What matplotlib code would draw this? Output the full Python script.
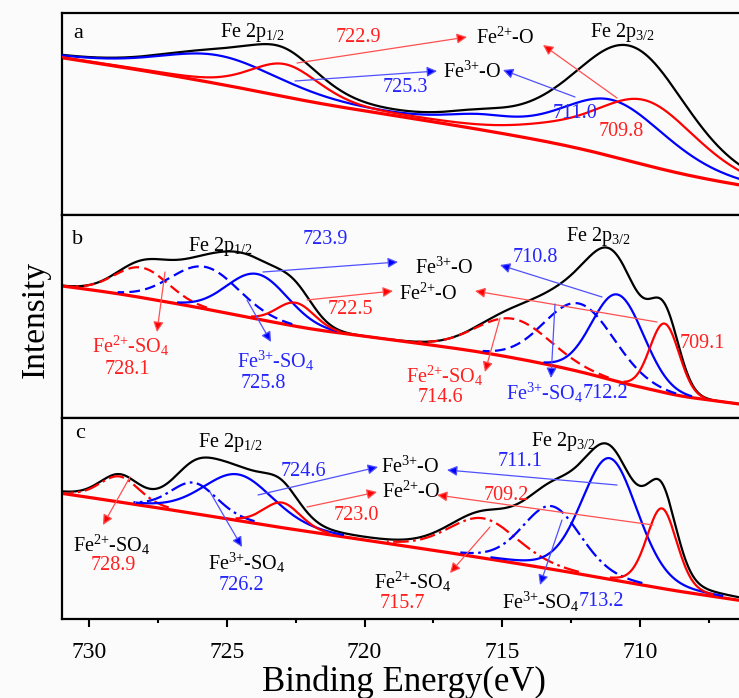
import numpy as np
import matplotlib.pyplot as plt

plt.rcParams['font.family'] = ['Liberation Serif', 'DejaVu Serif']
plt.rcParams['mathtext.fontset'] = 'custom'
plt.rcParams['mathtext.rm'] = 'Liberation Serif'
plt.rcParams['mathtext.default'] = 'regular'

# binding energy grid (eV), ascending
energy = np.linspace(706.0, 731.2, 1400)

# ---- panel a: Fe3+-O / Fe2+-O (2p1/2, shake-up, 2p3/2)
a_fe3o_pos = [725.3, 715.8, 711.0]
a_fe3o_amp = [28, 10, 56]
a_fe3o_fwhm = [5.2, 3.0, 4.6]
a_fe2o_pos = [722.9, 713.5, 709.8]
a_fe2o_amp = [32, 7, 64]
a_fe2o_fwhm = [3.0, 3.5, 4.4]
a_background = [28.3, 4.2, 24]   # level at 706 eV, slope per eV, Shirley step

# ---- panel b
b_fe3o_pos = [723.9, 710.8]
b_fe3o_amp = [45, 87]
b_fe3o_fwhm = [2.6, 2.2]
b_fe2o_pos = [722.5, 709.1]
b_fe2o_amp = [23.5, 69]
b_fe2o_fwhm = [1.6, 1.25]
b_fe3so4_pos = [725.8, 712.2]
b_fe3so4_amp = [42, 68]
b_fe3so4_fwhm = [2.9, 3.0]
b_fe2so4_pos = [728.1, 714.6]
b_fe2so4_amp = [30, 39]
b_fe2so4_fwhm = [2.3, 3.2]
b_background = [12.6, 3.61, 29.2]

# ---- panel c
c_fe3o_pos = [724.6, 711.1]
c_fe3o_amp = [46, 121]
c_fe3o_fwhm = [3.0, 2.4]
c_fe2o_pos = [723.0, 709.2]
c_fe2o_amp = [25, 80]
c_fe2o_fwhm = [1.6, 1.3]
c_fe3so4_pos = [726.2, 713.2]
c_fe3so4_amp = [30.7, 63]
c_fe3so4_fwhm = [2.0, 2.5]
c_fe2so4_pos = [728.9, 715.7]
c_fe2so4_amp = [25.5, 39.7]
c_fe2so4_fwhm = [1.7, 3.0]
c_background = [17.4, 4.05, 7.3]

x_ticks = [730, 725, 720, 715, 710]

RED = '#ff0000'
BLUE = '#0000ff'
TXT_RED = '#ff2020'
TXT_BLUE = '#2424ff'
ARR_RED = '#ff5050'
ARR_BLUE = '#5050ff'
DASH = (0, (4.8, 2.4))
DASHDOT = (0, (7, 2, 1.2, 2))


def pseudo_voigt(x, pos, amp, fwhm, eta):
    out = np.zeros_like(x)
    for p, a, w in zip(pos, amp, fwhm):
        u = ((x - p) / w) ** 2
        out += a * ((1 - eta) * np.exp(-4 * np.log(2) * u) + eta / (1 + 4 * u))
    return out


def shirley(x, total, base):
    level, slope, step = base
    cum = np.cumsum(total)
    return level + slope * (x - x[0]) + step * cum / cum[-1]


W, H = 739, 698
fig = plt.figure(figsize=(W / 100, H / 100), dpi=100, facecolor='#fbfbfb')


def P(x, y):
    # reference pixel -> figure fraction
    return (x / W, 1 - y / H)


left = 61.7 / W
width = (746 - 61.7) / W
xlim = (731.0, 731.0 - (746 - 61.7) / 27.53)
rows = [(13, 215), (215, 418), (418, 619.3)]
axes = []
for top, bot in rows:
    ax = fig.add_axes([left, 1 - bot / H, width, (bot - top) / H])
    ax.set_facecolor('#fbfbfb')
    ax.set_xlim(*xlim)
    ax.set_ylim(0, bot - top)
    ax.set_yticks([])
    for s in ax.spines.values():
        s.set_linewidth(1.6)
    axes.append(ax)


def draw_panel(ax, groups, base, eta, thresh):
    comps = [pseudo_voigt(energy, *g[:3], eta) for g in groups]
    total = np.sum(comps, axis=0)
    bg = shirley(energy, total, base)
    ax.plot(energy, bg + total, color='black', lw=1.6, zorder=2)
    ax.plot(energy, bg, color=RED, lw=2.3, zorder=2.5)
    for comp, g in zip(comps, groups):
        y = np.where(comp > thresh, bg + comp, np.nan)
        ax.plot(energy, y, color=g[3], ls=g[4], lw=1.6, zorder=3)


draw_panel(axes[0], [
    (a_fe3o_pos, a_fe3o_amp, a_fe3o_fwhm, BLUE, '-'),
    (a_fe2o_pos, a_fe2o_amp, a_fe2o_fwhm, RED, '-'),
], a_background, 0.3, -1)

draw_panel(axes[1], [
    (b_fe2so4_pos, b_fe2so4_amp, b_fe2so4_fwhm, RED, DASH),
    (b_fe3so4_pos, b_fe3so4_amp, b_fe3so4_fwhm, BLUE, DASH),
    (b_fe3o_pos, b_fe3o_amp, b_fe3o_fwhm, BLUE, '-'),
    (b_fe2o_pos, b_fe2o_amp, b_fe2o_fwhm, RED, '-'),
], b_background, 0.0, 1.5)

draw_panel(axes[2], [
    (c_fe2so4_pos, c_fe2so4_amp, c_fe2so4_fwhm, RED, DASHDOT),
    (c_fe3so4_pos, c_fe3so4_amp, c_fe3so4_fwhm, BLUE, DASHDOT),
    (c_fe3o_pos, c_fe3o_amp, c_fe3o_fwhm, BLUE, '-'),
    (c_fe2o_pos, c_fe2o_amp, c_fe2o_fwhm, RED, '-'),
], c_background, 0.2, 2.0)

for ax in axes[:2]:
    ax.set_xticks([])
axes[2].set_xticks(x_ticks)
axes[2].set_xticklabels([str(t) for t in x_ticks])
axes[2].set_xticks([727.5, 722.5, 717.5, 712.5, 707.5], minor=True)
axes[2].tick_params(axis='x', which='major', direction='out', length=6,
                    width=1.5, labelsize=17, pad=10)
axes[2].tick_params(axis='x', which='minor', direction='out', length=3,
                    width=1.5)

FE2 = 'Fe$^{\\text{2+}}$'
FE3 = 'Fe$^{\\text{3+}}$'
SO4 = '-SO$_4$'

# text labels: (text, x, y, colour) in reference pixels
labels = [
    ('Fe 2p$_{1/2}$', 252, 32, 'k'), ('722.9', 358, 38, TXT_RED),
    (FE2 + '-O', 505, 38, 'k'), ('725.3', 405, 88, TXT_BLUE),
    (FE3 + '-O', 472, 72, 'k'), ('711.0', 575, 113, TXT_BLUE),
    ('709.8', 621, 131, TXT_RED), ('Fe 2p$_{3/2}$', 622, 33, 'k'),

    ('Fe 2p$_{1/2}$', 220, 246, 'k'), ('723.9', 325, 240, TXT_BLUE),
    (FE3 + '-O', 444, 268, 'k'), (FE2 + '-O', 428, 294, 'k'),
    ('722.5', 350, 309, TXT_RED), (FE2 + SO4, 131, 346, TXT_RED),
    ('728.1', 127, 369, TXT_RED), (FE3 + SO4, 276, 361, TXT_BLUE),
    ('725.8', 263, 383, TXT_BLUE), ('Fe 2p$_{3/2}$', 598, 237, 'k'),
    ('710.8', 535, 257, TXT_BLUE), ('709.1', 702, 343, TXT_RED),
    (FE2 + SO4, 445, 376, TXT_RED), ('714.6', 440, 397, TXT_RED),
    (FE3 + SO4, 545, 393, TXT_BLUE), ('712.2', 605, 394, TXT_BLUE),

    ('Fe 2p$_{1/2}$', 230, 443, 'k'), ('724.6', 303, 472, TXT_BLUE),
    (FE3 + '-O', 410, 467, 'k'), (FE2 + '-O', 411, 492, 'k'),
    ('723.0', 356, 516, TXT_RED), (FE2 + SO4, 112, 545, 'k'),
    ('728.9', 113, 565, TXT_RED), (FE3 + SO4, 247, 563, 'k'),
    ('726.2', 241, 585, TXT_BLUE), ('Fe 2p$_{3/2}$', 563, 442, 'k'),
    ('711.1', 520, 462, TXT_BLUE), ('709.2', 506, 495, TXT_RED),
    (FE2 + SO4, 413, 582, 'k'), ('715.7', 402, 604, TXT_RED),
    (FE3 + SO4, 541, 602, 'k'), ('713.2', 601, 601, TXT_BLUE),
]
for txt, x, y, col in labels:
    fig.text(*P(x, y), txt, color=col, fontsize=14.5, ha='center', va='center')

for letter, x, y in [('a', 78, 33), ('b', 78, 240), ('c', 80, 433)]:
    fig.text(*P(x, y), letter, fontsize=16, ha='center', va='center')

# arrows: (start, end, colour) in reference pixels
arrows = [
    ((297, 63), (467, 37), ARR_RED), ((295, 81), (437, 71), ARR_BLUE),
    ((575, 97), (503, 70), ARR_BLUE), ((617, 98), (543, 45), ARR_RED),

    ((263, 272), (398, 262), ARR_BLUE), ((307, 300), (393, 291), ARR_RED),
    ((165, 272), (157, 332), ARR_RED), ((247, 300), (271, 342), ARR_BLUE),
    ((602, 297), (500, 265), ARR_BLUE), ((657, 322), (475, 291), ARR_RED),
    ((500, 318), (485, 372), ARR_RED), ((555, 304), (551, 378), ARR_BLUE),

    ((258, 495), (378, 467), ARR_BLUE), ((307, 507), (377, 492), ARR_RED),
    ((130, 477), (103, 525), ARR_RED), ((210, 492), (242, 547), ARR_BLUE),
    ((617, 485), (447, 470), ARR_BLUE), ((653, 525), (437, 495), ARR_RED),
    ((490, 527), (450, 573), ARR_RED), ((562, 520), (540, 585), ARR_BLUE),
]
for (x0, y0), (x1, y1), col in arrows:
    head = RED if col == ARR_RED else BLUE
    fig.add_artist(plt.Annotation('', xy=P(x1, y1), xytext=P(x0, y0),
                                  xycoords='figure fraction',
                                  textcoords='figure fraction',
                                  arrowprops=dict(arrowstyle='-|>', color=col,
                                                  lw=0.9, mutation_scale=15,
                                                  shrinkA=0, shrinkB=0,
                                                  fc=head)))

fig.text(*P(35, 319), 'Intensity', rotation=90, fontsize=24,
         ha='center', va='center')
fig.text(*P(404, 682), 'Binding Energy(eV)', fontsize=25,
         ha='center', va='center')

fig.savefig('out.png', dpi=100, facecolor=fig.get_facecolor())
